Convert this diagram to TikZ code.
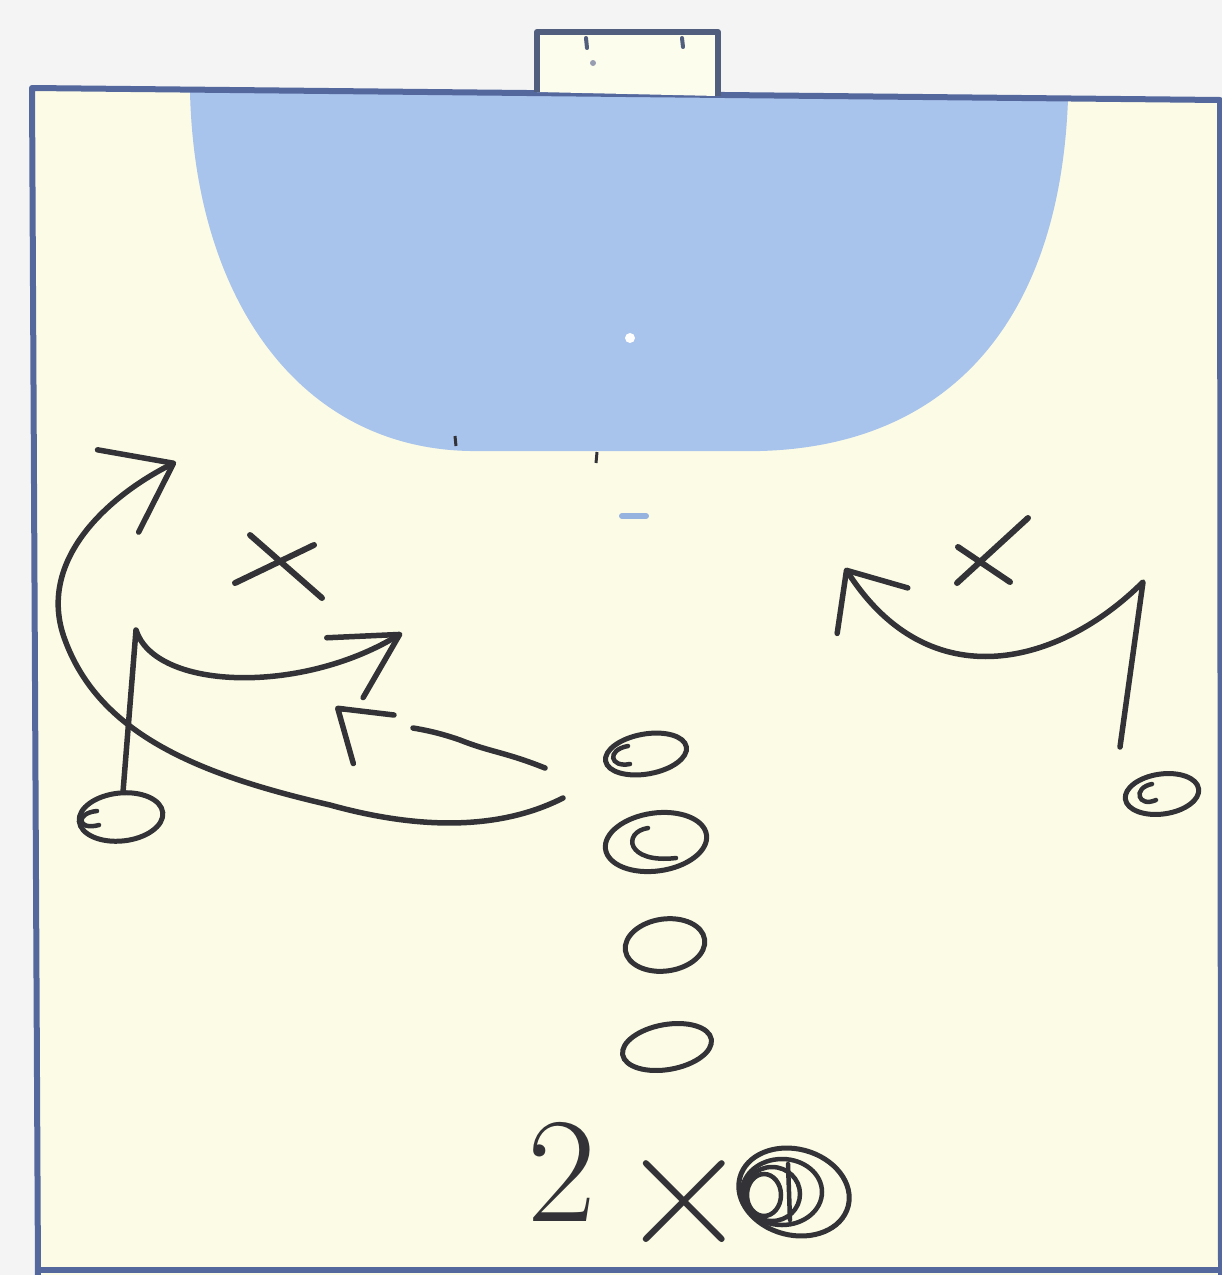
\documentclass[tikz,border=0pt]{standalone}
\usetikzlibrary{arrows.meta,shapes.geometric}
\definecolor{paper}{RGB}{243,244,243}
\definecolor{courtfill}{RGB}{252,252,230}
\definecolor{goalfill}{RGB}{253,253,238}
\definecolor{areafill}{RGB}{168,195,236}
\definecolor{areamark}{RGB}{150,178,222}
\definecolor{courtline}{RGB}{84,104,158}
\definecolor{goalline}{RGB}{82,94,125}
\definecolor{ink}{RGB}{50,50,55}
\tikzset{
  border/.style={draw=courtline, line width=6pt, line join=round},
  inkline/.style={draw=ink, line width=5.5pt, line cap=round, line join=round},
  curl/.style={draw=ink, line width=4.5pt, line cap=round},
  xstroke/.style={draw=ink, line width=6pt, line cap=round},
  player/.style={ellipse, draw=ink, line width=5pt, inner sep=0pt},
  hand/.style={text=ink, inner sep=0pt},
  runA/.style={inkline, -{Straight Barb[round, length=62pt, width=92pt]}},
  runB/.style={inkline, -{Straight Barb[round, length=64pt, width=70pt]}},
  runD/.style={inkline, -{Straight Barb[round, length=48pt, width=84pt]}},
  passC/.style={inkline, -{Straight Barb[round, harpoon, length=22pt, width=106pt]}},
}
\begin{document}
\begin{tikzpicture}[x=1pt,y=-1pt]
\useasboundingbox (0,0) rectangle (1222,1275);
% background and court
\fill[paper] (0,0) rectangle (1222,1275);
\fill[courtfill] (32,88) -- (1220,100) -- (1222,1275) -- (38,1275) -- cycle;
\fill[areafill] (190,92) .. controls (195,300) and (300,448) .. (470,451) -- (760,451)
   .. controls (950,446) and (1060,320) .. (1068,99) -- cycle;
\fill[white] (630,338) circle (5);
\draw[areamark, line width=6pt, line cap=round] (622,516) -- (646,516);
\draw[ink, line width=3pt] (455,436) -- (456,446) (597,452) -- (596,463);
\draw[border] (38,1275) -- (32,88) -- (1220,100) -- (1221,1275);
\draw[border] (38,1270) -- (1222,1270);
\draw[border, draw=goalline, fill=goalfill] (537,92) -- (537,32) -- (718,32) -- (718,96);
\draw[goalline, line width=4pt, line cap=round] (586,38) -- (587,48) (682,38) -- (683,47);
\fill[goalline!60] (593,63) circle (3);

% players
\node[player, minimum width=84pt, minimum height=48pt, rotate=6] (pL) at (121,817) {};
\node[player, minimum width=74pt, minimum height=40pt, rotate=8] (pR) at (1162,794) {};
\node[player, minimum width=82pt, minimum height=40pt, rotate=10] (c1) at (646,754) {};
\node[player, minimum width=102pt, minimum height=58pt, rotate=8] (c2) at (656,842) {};
\node[player, minimum width=80pt, minimum height=52pt, rotate=8] (c3) at (665,945) {};
\node[player, minimum width=90pt, minimum height=45pt, rotate=10] (c4) at (667,1047) {};
\node[player, minimum width=112pt, minimum height=86pt, rotate=-15] (ball) at (794,1192) {};
% curls inside the hand-drawn circles
\draw[curl] ([shift={(-24,-6)}]pL.center) .. controls ([shift={(-46,-4)}]pL.center) and ([shift={(-44,14)}]pL.center) .. ([shift={(-22,8)}]pL.center);
\draw[curl] ([shift={(-10,-10)}]pR.center) .. controls ([shift={(-30,-6)}]pR.center) and ([shift={(-24,14)}]pR.center) .. ([shift={(-6,6)}]pR.center);
\draw[curl] ([shift={(-18,-8)}]c1.center) .. controls ([shift={(-40,-4)}]c1.center) and ([shift={(-36,14)}]c1.center) .. ([shift={(-16,10)}]c1.center);
\draw[curl] ([shift={(-8,-14)}]c2.center) .. controls ([shift={(-34,-10)}]c2.center) and ([shift={(-30,22)}]c2.center) .. ([shift={(20,16)}]c2.center);
\draw[curl] ([shift={(-12,0)}]ball.center) ellipse [x radius=40, y radius=33];
\draw[curl] ([shift={(-22,2)}]ball.center) ellipse [x radius=28, y radius=27];
\draw[curl] ([shift={(-30,3)}]ball.center) ellipse [x radius=17, y radius=21];
\draw[curl] ([shift={(-6,-28)}]ball.center) -- ([shift={(-4,28)}]ball.center);

% defenders
\coordinate (dL) at (280,566);
\coordinate (dR) at (985,552);
\draw[xstroke] ([shift={(-45,17)}]dL) -- ([shift={(34,-21)}]dL)
               ([shift={(-30,-31)}]dL) -- ([shift={(42,32)}]dL);
\draw[xstroke] ([shift={(-28,31)}]dR) -- ([shift={(43,-34)}]dR)
               ([shift={(-27,-5)}]dR) -- ([shift={(25,30)}]dR);

% arrow tips / bends
\coordinate (tA) at (176,462);
\coordinate (bV) at (136,630);
\coordinate (tB) at (402,633);
\coordinate (vD) at (1143,582);
\coordinate (tD) at (845,568);
\coordinate (gC) at (413,728);
\coordinate (hC) at (394,715);
\coordinate (tC) at (335,708);

% long run around the left
\draw[runA] ([shift={(-93,-44)}]c2.center) .. controls (500,830) and (420,830) .. (330,805)
   .. controls (200,775) and (100,735) .. (65,640)
   .. controls (35,560) and (110,495) .. (tA);
% left player's run
\draw[runB] (pL) -- (bV) .. controls (155,690) and (300,695) .. (tB);
% right player's run
\draw[runD] ([shift={(-42,-47)}]pR.center) -- (vD) .. controls (1060,665) and (930,700) .. (tD);
% pass
\draw[inkline] ([shift={(-101,14)}]c1.center) .. controls (505,752) and (490,752) .. (460,740)
   .. controls (440,733) and (425,730) .. (gC);
\draw[passC] (hC) -- (tC);

% text: 2 x
\node[hand, font=\fontsize{150}{150}\selectfont] (two) at (562,1172) {2};
\node[hand, font=\fontsize{180}{180}\selectfont] (times) at (684,1203) {\makebox[88pt]{×}};
\end{tikzpicture}
\end{document}
